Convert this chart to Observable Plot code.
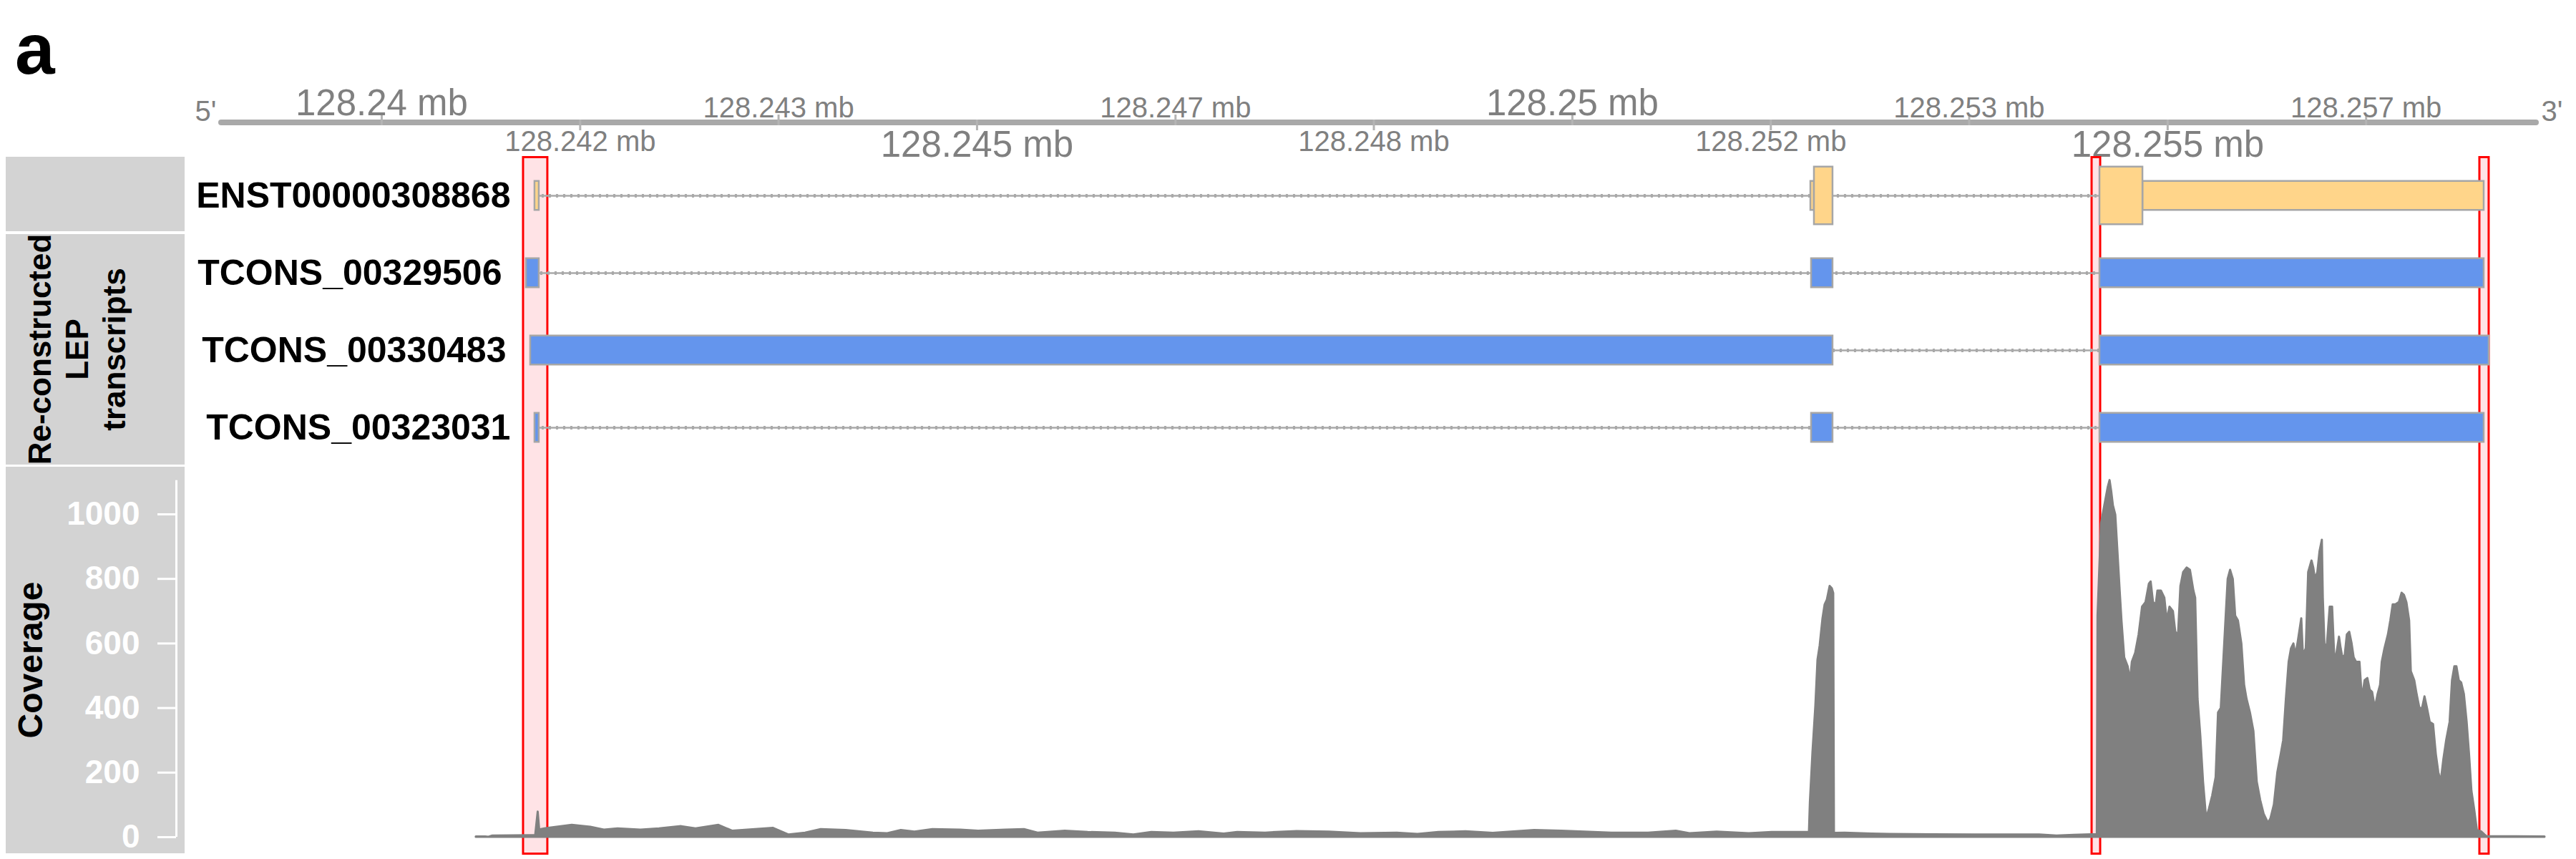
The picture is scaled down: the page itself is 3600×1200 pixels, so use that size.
<!DOCTYPE html>
<html><head><meta charset="utf-8">
<script src="https://cdn.jsdelivr.net/npm/d3@7"></script>
<script src="https://cdn.jsdelivr.net/npm/@observablehq/plot@0.6"></script>
<style>
html,body{margin:0;padding:0;background:#fff;}
#fig{position:relative;width:3600px;height:1200px;overflow:hidden;font-family:"Liberation Sans",Arial,Helvetica,sans-serif;}
.layer{position:absolute;left:0;width:3600px;overflow:hidden;}
.panel{position:absolute;background:#d3d3d3;}
.ttl{position:absolute;font-weight:bold;color:#000;white-space:pre;text-align:center;transform:translate(-50%,-50%) rotate(-90deg);}
#lab{position:absolute;left:21px;top:18px;font-size:100px;font-weight:bold;line-height:100px;color:#000;}
</style></head><body><div id="fig"></div>
<script>
// ---------- data ----------
const region = [128238630, 128258120];
const tickPos = [128240000,128241667,128243333,128245000,128246667,128248333,128250000,128251667,128253333,128255000,128256667];
const tickLabels = ["128.24 mb","128.242 mb","128.243 mb","128.245 mb","128.247 mb","128.248 mb","128.25 mb","128.252 mb","128.253 mb","128.255 mb","128.257 mb"];
const tickSide = ["above","below","above","below","above","below","above","below","above","below","above"];
const tickMajor = [true,false,false,true,false,false,true,false,false,true,false];

const transcripts = ["ENST00000308868","TCONS_00329506","TCONS_00330483","TCONS_00323031"];
const exonTx = ["ENST00000308868","ENST00000308868","ENST00000308868","ENST00000308868","ENST00000308868",
  "TCONS_00329506","TCONS_00329506","TCONS_00329506",
  "TCONS_00330483","TCONS_00330483",
  "TCONS_00323031","TCONS_00323031","TCONS_00323031"];
const exonStart = [128241286,128252002,128252032,128254430,128254791, 128241214,128252008,128254430, 128241250,128254430, 128241286,128252008,128254430];
const exonEnd   = [128241322,128252032,128252188,128254791,128257657, 128241322,128252188,128257657, 128252188,128257699, 128241322,128252188,128257657];
const exonType  = ["utr","utr","cds","cds","utr", "exon","exon","exon", "exon","exon", "exon","exon","exon"];

const highlightStart = [128241190,128254364,128257621];
const highlightEnd   = [128241394,128254436,128257699];

const covTicks = [0,200,400,600,800,1000];
const coverage = [
[128240793,1],[128240871,1],[128240900,null],[128240932,4],[128241256,5],[128241292,5],[128241313,78],[128241328,12],[128241340,24],[128241370,26],
[128241448,30],[128241599,37],[128241755,31],[128241869,22],[128241983,26],[128242176,22],[128242332,26],[128242518,33],[128242638,26],[128242831,37],
[128242945,19],[128243137,24],[128243287,28],[128243420,7],[128243558,13],[128243690,24],[128243900,21],[128244129,13],[128244249,11],[128244363,21],
[128244477,16],[128244628,24],[128244862,22],[128245012,19],[128245241,22],[128245397,24],[128245511,13],[128245740,19],[128245932,15],[128246160,13],
[128246316,7],[128246467,15],[128246653,13],[128246863,17],[128247074,10],[128247188,15],[128247422,13],[128247687,18],[128247957,16],[128248222,11],
[128248528,13],[128248702,9],[128248877,15],[128249105,17],[128249334,12],[128249682,21],[128249911,19],[128250103,16],[128250331,13],[128250638,13],
[128250872,19],[128250986,11],[128251215,16],[128251485,11],[128251677,15],[128251990,15],
[128251998,107],[128252020,264],[128252044,406],[128252062,549],[128252080,592],[128252104,677],[128252122,720],[128252140,734],[128252164,777],[128252182,770],[128252194,755],[128252200,12],
[128252290,13],[128252519,10],[128252663,9],[128253023,8],[128253384,7],[128253925,7],[128254069,4],[128254213,6],[128254358,8],[128254408,8],
[128254414,685],[128254443,970],[128254471,1027],[128254500,1084],[128254515,1105],[128254529,1070],[128254543,1027],[128254563,998],[128254581,884],[128254601,756],
[128254615,670],[128254638,556],[128254667,528],[128254687,485],[128254702,542],[128254730,570],[128254759,627],[128254788,713],[128254817,727],[128254845,784],
[128254860,791],[128254880,727],[128254903,720],[128254917,763],[128254946,763],[128254975,741],[128254995,670],[128255018,713],[128255047,699],[128255067,635],
[128255090,627],[128255110,777],[128255133,820],[128255162,834],[128255190,827],[128255219,763],[128255234,741],[128255254,428],[128255277,314],[128255300,171],
[128255326,57],[128255349,86],[128255377,128],[128255406,185],[128255426,385],[128255449,399],[128255478,599],[128255507,799],[128255527,827],[128255550,799],
[128255570,685],[128255593,670],[128255622,599],[128255645,471],[128255665,428],[128255694,385],[128255723,328],[128255751,171],[128255780,114],[128255809,71],
[128255846,43],[128255866,57],[128255895,100],[128255924,200],[128255953,257],[128255973,299],[128255996,428],[128256019,542],[128256039,584],[128256059,599],
[128256076,563],[128256096,606],[128256125,677],[128256139,563],[128256163,584],[128256183,820],[128256211,856],[128256226,834],[128256240,799],[128256260,820],
[128256278,884],[128256298,920],[128256306,741],[128256321,584],[128256341,599],[128256364,713],[128256384,713],[128256404,542],[128256421,570],[128256442,620],
[128256456,584],[128256470,556],[128256490,563],[128256508,627],[128256528,635],[128256548,599],[128256565,556],[128256585,542],[128256614,542],[128256634,428],
[128256657,485],[128256680,492],[128256700,456],[128256720,449],[128256743,399],[128256766,442],[128256787,471],[128256801,542],[128256824,584],[128256853,627],
[128256873,670],[128256893,720],[128256916,720],[128256945,727],[128256968,756],[128256988,749],[128257008,727],[128257031,670],[128257045,513],[128257074,485],
[128257094,442],[128257117,399],[128257140,399],[128257160,435],[128257181,399],[128257204,356],[128257232,349],[128257255,257],[128257276,200],[128257296,171],
[128257319,242],[128257342,299],[128257371,356],[128257391,485],[128257411,528],[128257428,528],[128257448,485],[128257468,478],[128257491,442],[128257514,356],
[128257534,257],[128257554,143],[128257577,86],[128257600,21],[128257635,17],[128257664,7],[128257680,2],[128258168,1]
];

// ---------- derived tables ----------
const ticks = tickPos.map((x,i)=>({x, label:tickLabels[i], side:tickSide[i], major:tickMajor[i]}));
const sel = (side, major) => ticks.filter(d => d.side===side && d.major===major);
const exons = exonTx.map((tx,i)=>({tx, start:exonStart[i], end:exonEnd[i], type:exonType[i]}));
const spans = transcripts.map(tx => {
  const e = exons.filter(d=>d.tx===tx);
  return {tx, start:d3.min(e,d=>d.start), end:d3.max(e,d=>d.end)};
});
const highlights = highlightStart.map((s,i)=>({start:s, end:highlightEnd[i]}));
const covMax = d3.max(coverage, d=>d[1]);

const FONT = "Liberation Sans, Arial, Helvetica, sans-serif";
const GRAYTXT = "#808080", LINE = "#a9a9a9";
const HL_FILL = "#ffe3e6", HL_STROKE = "#ff0000";
const common = {width:3600, marginLeft:305, marginRight:52, x:{domain:region, axis:null},
  style:{fontFamily:FONT, background:"transparent", overflow:"visible"}};

// ---------- axis track ----------
const axisPlot = Plot.plot({...common, height:234, marginTop:167, marginBottom:59,
  marks:[
    Plot.rect([region], {x1:d=>d[0], x2:d=>d[1], fill:LINE, rx:4}),
    Plot.ruleX(ticks.filter(d=>d.side==="above"), {x:"x", stroke:"#b4b4b4", strokeWidth:3, insetTop:-7}),
    Plot.ruleX(ticks.filter(d=>d.side==="below"), {x:"x", stroke:"#b4b4b4", strokeWidth:3, insetBottom:-7}),
    Plot.text(sel("above",true), {x:"x", text:"label", frameAnchor:"top", lineAnchor:"bottom", dy:-7, fontSize:51, fill:GRAYTXT}),
    Plot.text(sel("above",false), {x:"x", text:"label", frameAnchor:"top", lineAnchor:"bottom", dy:-4, fontSize:40, fill:GRAYTXT}),
    Plot.text(sel("below",true), {x:"x", text:"label", frameAnchor:"bottom", lineAnchor:"top", dy:7, fontSize:51, fill:GRAYTXT}),
    Plot.text(sel("below",false), {x:"x", text:"label", frameAnchor:"bottom", lineAnchor:"top", dy:7, fontSize:40, fill:GRAYTXT}),
    Plot.text(["5'"], {x:()=>region[0], text:d=>d, frameAnchor:"top", lineAnchor:"bottom", dy:1, dx:-3, textAnchor:"end", fontSize:40, fill:GRAYTXT}),
    Plot.text(["3'"], {x:()=>region[1], text:d=>d, frameAnchor:"top", lineAnchor:"bottom", dy:1, dx:3, textAnchor:"start", fontSize:40, fill:GRAYTXT})
  ]});

// ---------- transcript tracks ----------
const BW = 434/4;
const txPlot = Plot.plot({...common, height:434, marginTop:0, marginBottom:0,
  y:{type:"band", domain:transcripts, padding:0, axis:null},
  marks:[
    Plot.rect(highlights, {x1:"start", x2:"end", fill:HL_FILL, stroke:HL_STROKE, strokeWidth:3, insetTop:1.5, insetBottom:-10}),
    Plot.ruleY(spans, {y:"tx", x1:"start", x2:"end", stroke:LINE, strokeWidth:2.5}),
    Plot.ruleY(spans, {y:"tx", x1:"start", x2:"end", stroke:LINE, strokeWidth:5, strokeDasharray:"3 7"}),
    Plot.rect(exons.filter(d=>d.tx===transcripts[0] && d.type==="utr"), {x1:"start", x2:"end", y:"tx", insetTop:(BW-41)/2, insetBottom:(BW-41)/2, fill:"#ffd58a", stroke:"#a6a6a6", strokeWidth:2.5}),
    Plot.rect(exons.filter(d=>d.tx===transcripts[0] && d.type==="cds"), {x1:"start", x2:"end", y:"tx", insetTop:(BW-81)/2, insetBottom:(BW-81)/2, fill:"#ffd58a", stroke:"#a6a6a6", strokeWidth:2.5}),
    Plot.rect(exons.filter(d=>d.type==="exon"), {x1:"start", x2:"end", y:"tx", insetTop:(BW-41)/2, insetBottom:(BW-41)/2, fill:"#6495ed", stroke:"#a6a6a6", strokeWidth:2.5}),
    Plot.text(spans, {x:"start", y:"tx", text:"tx", dx:-34, textAnchor:"end", lineAnchor:"middle", fontSize:50, fontWeight:"bold", fill:"#000"})
  ]});

// ---------- coverage track ----------
const covPlot = Plot.plot({...common, height:548, marginTop:0, marginBottom:6,
  y:{domain:[0,1000], range:[517,66], axis:null},
  marks:[
    Plot.rect(highlights, {x1:"start", x2:"end", fill:HL_FILL, stroke:HL_STROKE, strokeWidth:3, insetTop:-10, insetBottom:1.5}),
    Plot.areaY(coverage, {x:d=>d[0], y:d=>d[1], fill:"#808080", stroke:"#808080", strokeWidth:3, strokeLinejoin:"round", strokeLinecap:"round"}),
    Plot.ruleX([region[0]], {x:d=>d, y1:0, y2:covMax, dx:-59, stroke:"white", strokeWidth:3}),
    Plot.axisY(covTicks, {anchor:"left", tickSize:26, tickPadding:25, dx:-59, fontSize:46, fontWeight:"bold", color:"white", fill:"white", stroke:"white", strokeWidth:3, tickFormat:d=>String(d), label:null})
  ]});

// ---------- layout ----------
const fig = document.getElementById("fig");
function addDiv(cls, css, html){ const d=document.createElement("div"); d.className=cls; d.style.cssText=css; if(html!=null) d.textContent=html; fig.appendChild(d); return d; }
addDiv("panel","left:8px;top:219px;width:250px;height:104px;");
addDiv("panel","left:8px;top:327px;width:250px;height:322px;");
addDiv("panel","left:8px;top:652px;width:250px;height:540px;");
addDiv("ttl","left:108px;top:488px;font-size:44px;line-height:52px;","Re-constructed\nLEP\ntranscripts");
addDiv("ttl","left:43px;top:922px;font-size:48px;line-height:52px;","Coverage");
function addLayer(top, h, node){ const d=document.createElement("div"); d.className="layer"; d.style.top=top+"px"; d.style.height=h+"px"; d.appendChild(node); fig.appendChild(d); }
addLayer(0, 234, axisPlot);
addLayer(218, 434, txPlot);
addLayer(652, 548, covPlot);
const lab = addDiv("", "", "a"); lab.id = "lab";
</script></body></html>
